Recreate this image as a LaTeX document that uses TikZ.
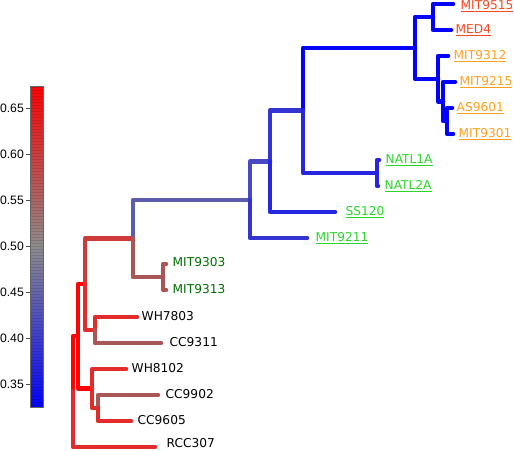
\documentclass[tikz,border=0pt]{standalone}
\usepackage{fontspec}
\setmainfont{DejaVu Sans}
\newfontfamily\tickfont{Liberation Sans}
\usetikzlibrary{positioning}

% branch colours, from red (high) to blue (low)
\definecolor{hotred}{RGB}{252,4,4}
\definecolor{redA}{RGB}{226,44,44}
\definecolor{redB}{RGB}{206,58,58}
\definecolor{brownA}{RGB}{168,86,86}
\definecolor{slateA}{RGB}{92,92,172}
\definecolor{blueC}{RGB}{72,72,196}
\definecolor{blueB}{RGB}{52,52,210}
\definecolor{blueA}{RGB}{38,38,224}
\definecolor{pureblue}{RGB}{2,2,252}
\definecolor{midgray}{RGB}{142,140,140}
% label colours
\definecolor{labred}{RGB}{252,70,30}
\definecolor{laborange}{RGB}{255,160,30}
\definecolor{labgreen}{RGB}{40,215,40}
\definecolor{labdark}{RGB}{0,110,0}

\begin{document}
\begin{tikzpicture}[x=1pt, y=-1pt, node distance=5pt,
  br/.style = {line width=4.6pt, line cap=round, line join=round},
  leaf/.style = {inner sep=0.5pt, font=\fontsize{12.2}{14}\selectfont},
  plain/.style = {leaf, yshift=0.5pt},
  tick/.style = {anchor=east, inner sep=0pt, font=\tickfont\fontsize{12.2}{14}\selectfont}]
\useasboundingbox (0,0) rectangle (514,450);

% colour bar
\shade[top color=hotred, bottom color=pureblue, middle color=midgray] (30,86) rectangle (43,407);
\foreach \y in {87.5,90.5,...,406}
  \draw[black, opacity=0.12, line width=0.4pt] (30,\y) -- (43,\y);
\draw[black!60, line width=0.5pt] (30,86) rectangle (43,407);
\foreach \v/\y in {0.65/108, 0.60/154, 0.55/200, 0.50/246, 0.45/292, 0.40/338, 0.35/384} {
  \draw[black!70, line width=0.6pt] (25.5,\y) -- (30,\y);
  \node[tick] (t\v) at (24,\y) {\v};
}

% leaf tips
\coordinate (tMIT9515) at (453,4);
\coordinate (tMED4) at (451,30);
\coordinate (tMIT9312) at (448,56);
\coordinate (tMIT9215) at (455,82);
\coordinate (tAS9601) at (452,108);
\coordinate (tMIT9301) at (453,134);
\coordinate (tNATL1A) at (379,160);
\coordinate (tNATL2A) at (378,186);
\coordinate (tSS120) at (335,212);
\coordinate (tMIT9211) at (307,238);
\coordinate (tMIT9303) at (166,264);
\coordinate (tMIT9313) at (166,290);
\coordinate (tWH7803) at (137,317);
\coordinate (tCC9311) at (161,343);
\coordinate (tWH8102) at (126,369);
\coordinate (tCC9902) at (158,395);
\coordinate (tCC9605) at (131,421);
\coordinate (tRCC307) at (155,447);

% inner nodes
\coordinate (n1) at (447,121);
\coordinate (n2) at (443,101.5);
\coordinate (n3) at (438,78.8);
\coordinate (n4) at (433,17);
\coordinate (n5) at (415,47.9);
\coordinate (n6) at (377,173);
\coordinate (n7) at (303,110.4);
\coordinate (n8) at (270,161.5);
\coordinate (n9) at (250,200);
\coordinate (n10) at (163,277);
\coordinate (n11) at (133,238.5);
\coordinate (n12) at (95,330);
\coordinate (n13) at (85,284);
\coordinate (n14) at (98,408);
\coordinate (n15) at (92,388.4);
\coordinate (n16) at (78,336);
\coordinate (root) at (73,391.5);

% branches
\draw[br, hotred] (root) |- (n16);
\draw[br, redA] (root) |- (tRCC307);
\draw[br, hotred] (n16) |- (n13);
\draw[br, hotred] (n16) |- (n15);
\draw[br, redA] (n15) |- (tWH8102);
\draw[br, redA] (n15) |- (n14);
\draw[br, brownA] (n14) |- (tCC9902);
\draw[br, redA] (n14) |- (tCC9605);
\draw[br, redB] (n13) |- (n11);
\draw[br, redA] (n13) |- (n12);
\draw[br, redA] (n12) |- (tWH7803);
\draw[br, brownA] (n12) |- (tCC9311);
\draw[br, slateA] (n11) |- (n9);
\draw[br, brownA] (n11) |- (n10);
\draw[br, brownA] (n10) |- (tMIT9303);
\draw[br, brownA] (n10) |- (tMIT9313);
\draw[br, blueC] (n9) |- (n8);
\draw[br, blueB] (n9) |- (tMIT9211);
\draw[br, blueB] (n8) |- (n7);
\draw[br, blueA] (n8) |- (tSS120);
\draw[br, pureblue] (n7) |- (n5);
\draw[br, blueA] (n7) |- (n6);
\draw[br, blueA] (n6) |- (tNATL1A);
\draw[br, blueA] (n6) |- (tNATL2A);
\draw[br, pureblue] (n5) |- (n4);
\draw[br, pureblue] (n5) |- (n3);
\draw[br, pureblue] (n4) |- (tMIT9515);
\draw[br, pureblue] (n4) |- (tMED4);
\draw[br, pureblue] (n3) |- (tMIT9312);
\draw[br, pureblue] (n3) |- (n2);
\draw[br, pureblue] (n2) |- (tMIT9215);
\draw[br, pureblue] (n2) |- (n1);
\draw[br, pureblue] (n1) |- (tAS9601);
\draw[br, pureblue] (n1) |- (tMIT9301);

% labels
\node[leaf, text=labred, right=7pt of tMIT9515, yshift=-1.8pt] (MIT9515) {\underline{MIT9515}};
\node[leaf, text=labred, right=4pt of tMED4] (MED4) {\underline{MED4}};
\node[leaf, text=laborange, right=5pt of tMIT9312] (MIT9312) {\underline{MIT9312}};
\node[leaf, text=laborange, right=4pt of tMIT9215] (MIT9215) {\underline{MIT9215}};
\node[leaf, text=laborange, right=4pt of tAS9601] (AS9601) {\underline{AS9601}};
\node[leaf, text=laborange, right=5pt of tMIT9301] (MIT9301) {\underline{MIT9301}};
\node[leaf, text=labgreen, right=6pt of tNATL1A] (NATL1A) {\underline{NATL1A}};
\node[leaf, text=labgreen, right=6pt of tNATL2A] (NATL2A) {\underline{NATL2A}};
\node[leaf, text=labgreen, right=10pt of tSS120] (SS120) {\underline{SS120}};
\node[leaf, text=labgreen, right=8pt of tMIT9211] (MIT9211) {\underline{MIT9211}};
\node[plain, text=labdark, right=6pt of tMIT9303, yshift=1pt] (MIT9303) {MIT9303};
\node[plain, text=labdark, right=6pt of tMIT9313] (MIT9313) {MIT9313};
\node[plain, right=4pt of tWH7803] (WH7803) {WH7803};
\node[plain, right=8pt of tCC9311] (CC9311) {CC9311};
\node[plain, right=5pt of tWH8102] (WH8102) {WH8102};
\node[plain, right=7pt of tCC9902] (CC9902) {CC9902};
\node[plain, right=6pt of tCC9605] (CC9605) {CC9605};
\node[plain, right=11pt of tRCC307, yshift=3pt] (RCC307) {RCC307};
\end{tikzpicture}
\end{document}
